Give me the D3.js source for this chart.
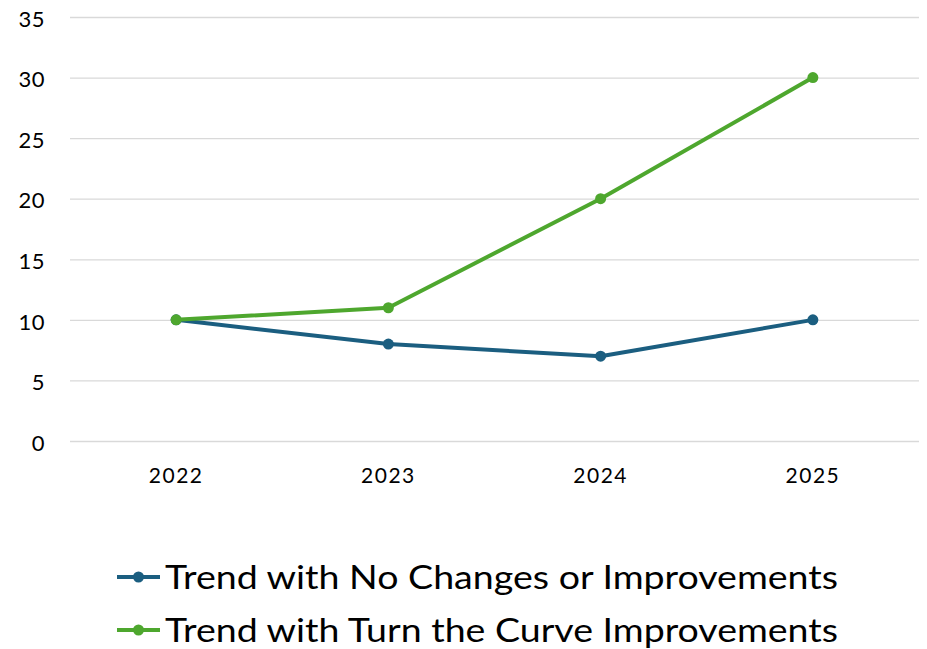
<!DOCTYPE html>
<html>
<head>
<meta charset="utf-8">
<script src="https://cdn.jsdelivr.net/npm/d3@7"></script>
<style>
  body { margin: 0; background: #fff; }
  text { font-family: Lato, "Open Sans", sans-serif; fill: #000; }
</style>
</head>
<body>
<svg id="chart" width="927" height="649"></svg>
<script>
// chart data
const years = ['2022', '2023', '2024', '2025'];
const noChanges = [10, 8, 7, 10];
const turnCurve = [10, 11, 20, 30];
const yTicks = [0, 5, 10, 15, 20, 25, 30, 35];
const seriesNames = ['Trend with No Changes or Improvements', 'Trend with Turn the Curve Improvements'];
const seriesColors = ['#1b5e80', '#4ea72e'];

const svg = d3.select('#chart');
const margin = { left: 70, right: 8, top: 17, bottom: 208 };
const width = +svg.attr('width');
const height = +svg.attr('height');
const innerWidth = width - margin.left - margin.right;
const innerHeight = height - margin.top - margin.bottom;

const chart = svg.append('g')
  .attr('transform', `translate(${margin.left},${margin.top})`);

const xScale = d3.scaleBand().domain(years).range([0, innerWidth]);
const yScale = d3.scaleLinear().domain([0, 35]).range([innerHeight, 0]);

// gridlines + y labels
const yAxis = d3.axisLeft(yScale).tickValues(yTicks).tickSize(-innerWidth).tickPadding(25);
const yAxisG = chart.append('g').call(yAxis);
yAxisG.select('.domain').remove();
yAxisG.selectAll('line').attr('stroke', '#d9d9d9').attr('stroke-width', 1.3);
yAxisG.selectAll('text')
  .style('font-size', '22px')
  .style('letter-spacing', '0.5px')
  .attr('dy', '0.42em')
  .attr('fill', '#000');

// x labels
const xAxis = d3.axisBottom(xScale).tickSize(0).tickPadding(27);
const xAxisG = chart.append('g')
  .attr('transform', `translate(0,${innerHeight})`)
  .call(xAxis);
xAxisG.select('.domain').remove();
xAxisG.selectAll('text')
  .style('font-size', '21px')
  .style('letter-spacing', '1.5px')
  .attr('fill', '#000');

const xPos = (d, i) => xScale(years[i]) + xScale.bandwidth() / 2;
const line = d3.line().x(xPos).y(d => yScale(d));

[noChanges, turnCurve].forEach((values, s) => {
  chart.append('path')
    .datum(values)
    .attr('fill', 'none')
    .attr('stroke', seriesColors[s])
    .attr('stroke-width', 4)
    .attr('stroke-linejoin', 'round')
    .attr('d', line);
  chart.selectAll(null)
    .data(values)
    .enter().append('circle')
    .attr('cx', xPos)
    .attr('cy', d => yScale(d))
    .attr('r', 5.5)
    .attr('fill', seriesColors[s]);
});

// legend
const legendWidths = [673, 673];
const legend = svg.append('g').attr('transform', 'translate(117,577)');
seriesNames.forEach((name, i) => {
  const g = legend.append('g').attr('transform', `translate(0,${i * 53})`);
  g.append('line')
    .attr('x1', 0).attr('x2', 43)
    .attr('stroke', seriesColors[i]).attr('stroke-width', 4);
  g.append('circle').attr('cx', 21.5).attr('r', 5.5).attr('fill', seriesColors[i]);
  g.append('text')
    .attr('x', 48)
    .attr('dy', '0.35em')
    .attr('textLength', legendWidths[i])
    .attr('lengthAdjust', 'spacingAndGlyphs')
    .style('font-size', '33px')
    .text(name);
});
</script>
</body>
</html>
